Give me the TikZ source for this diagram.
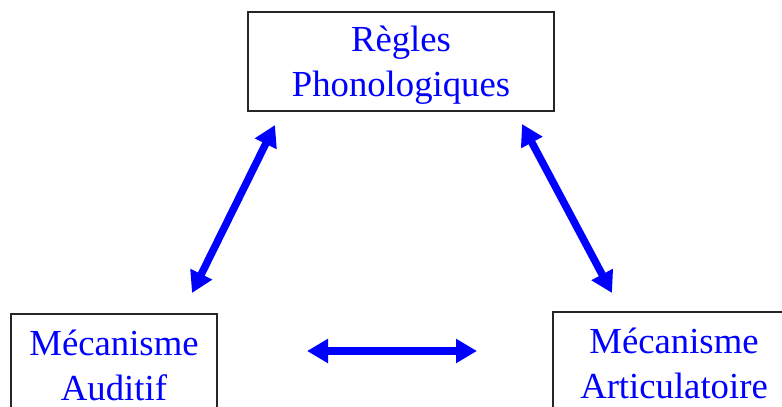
\documentclass[tikz,border=0pt]{standalone}
\usepackage{fontspec}
\setmainfont{Liberation Serif}
\usetikzlibrary{arrows.meta}
\tikzset{>={Triangle[length=21pt,width=23pt]},
  bloc/.style={draw=black!85,line width=1.2pt,minimum height=99pt},
  texte/.style={align=center,text=blue,font=\fontsize{36.7}{45}\selectfont},
  lien/.style={<->,blue,line width=7.5pt}}

\begin{document}
\begin{tikzpicture}[x=1pt,y=1pt]
\useasboundingbox (0,0) rectangle (782,407);
\node[bloc,minimum width=306pt] (regles) at (401,345.5) {};
\node[bloc,minimum width=206pt] (audit) at (114,43.5) {};
\node[bloc,minimum width=242pt] (artic) at (674,45.5) {};
\node[texte,yshift=-4pt] (regles-t) at (regles) {Règles\\Phonologiques};
\node[texte,yshift=-2pt] (audit-t) at (audit) {Mécanisme\\Auditif};
\node[texte,yshift=-2pt] (artic-t) at (artic) {Mécanisme\\Articulatoire};
% ends of the arrows
\coordinate (RA) at (275,282);
\coordinate (AR) at (192,114);
\coordinate (RB) at (522,283);
\coordinate (BR) at (612,114);
\coordinate (AB) at (307,56);
\coordinate (BA) at (477,56);
\path[lien] (RA) edge (AR);
\path[lien] (RB) edge (BR);
\path[lien] (AB) edge (BA);
\end{tikzpicture}
\end{document}
